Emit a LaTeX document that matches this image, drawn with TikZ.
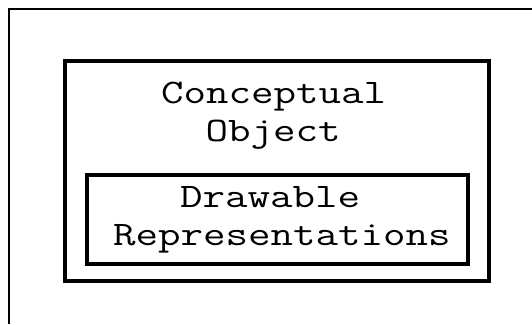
\documentclass[tikz,border=0pt]{standalone}
\usepackage{fontspec}
\setmonofont[FakeStretch=1.27]{Latin Modern Mono}
\begin{document}
\begin{tikzpicture}[x=1bp,y=-1bp,
  boxline/.style={draw=black,line width=4bp,line join=miter},
  label/.style={inner sep=0pt,anchor=base west,font=\ttfamily\fontsize{34.4bp}{38bp}\selectfont}]
\useasboundingbox (0,0) rectangle (532,324);
% page border (top and left only visible)
\draw[line width=2bp] (9,324) -- (9,9) -- (532,9);
% outer box
\node[boxline,inner sep=0pt,minimum width=424bp,minimum height=220.5bp,anchor=north west] (outer) at (63,58.5) {};
% inner box
\node[boxline,inner sep=0pt,minimum width=380.5bp,minimum height=89bp,anchor=north west] (inner) at (85,173) {};
% texts
\node[label] (t1) at (161,103) {Conceptual};
\node[label] (t2) at (205.5,141.5) {Object};
\node[label] (t3) at (180,207) {Drawable};
\node[label] (t4) at (113,245) {Representations};
\end{tikzpicture}
\end{document}
